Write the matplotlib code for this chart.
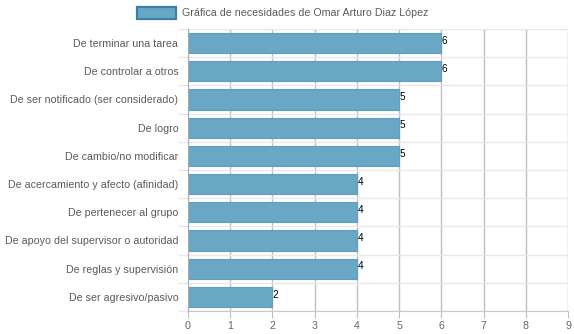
import matplotlib
matplotlib.use("Agg")
import matplotlib.pyplot as plt
from matplotlib.patches import Rectangle

categories = [
    "De terminar una tarea",
    "De controlar a otros",
    "De ser notificado (ser considerado)",
    "De logro",
    "De cambio/no modificar",
    "De acercamiento y afecto (afinidad)",
    "De pertenecer al grupo",
    "De apoyo del supervisor o autoridad",
    "De reglas y supervisión",
    "De ser agresivo/pasivo",
]
values = [6, 6, 5, 5, 5, 4, 4, 4, 4, 2]
series_label = "Gráfica de necesidades de Omar Arturo Diaz López"
x_ticks = list(range(0, 10))

plt.rcParams['font.family'] = ['Liberation Sans', 'DejaVu Sans']

W, H = 574, 334
fig = plt.figure(figsize=(W / 100, H / 100), dpi=100)
ax = fig.add_axes([188 / W, 1 - 311 / H, (568 - 188) / W, (311 - 29) / H])

n = len(categories)
ypos = list(range(n))
bar_face = "#6aa7c5"
bar_edge = "#5e9ebf"
ax.barh(ypos, values, height=0.72, color=bar_face, edgecolor=bar_edge, linewidth=0.8, zorder=3)

ax.set_xlim(0, 9)
ax.set_ylim(n - 0.5, -0.5)
ax.set_xticks(x_ticks)
ax.set_xticklabels([str(t) for t in x_ticks])
ax.set_yticks(ypos)
ax.set_yticklabels(categories)

# grid lines
for t in x_ticks[1:]:
    ax.axvline(t, color="#bfbfbf", linewidth=1, zorder=1)
for b in range(n + 1):
    ax.axhline(b - 0.5, color="#e8e8e8", linewidth=1, zorder=1)

for s in ["top", "right"]:
    ax.spines[s].set_visible(False)
ax.spines["left"].set_color("#aaaaaa")
ax.spines["bottom"].set_color("#c8c8c8")
ax.spines["left"].set_zorder(4)

ax.tick_params(axis="x", colors="#bfbfbf", labelcolor="#666666", labelsize=7.7, length=5, pad=2)
ax.tick_params(axis="y", length=0, labelcolor="#5a5a5a", labelsize=7.65, pad=7)

# left tick marks at category boundaries
for b in range(n + 1):
    ax.plot([-0.22, 0], [b - 0.5, b - 0.5], color="#e8e8e8", linewidth=1, clip_on=False, zorder=1)

for y, v in zip(ypos, values):
    ax.text(v + 0.01, y - 0.08, str(v), ha="left", va="center", fontsize=7.2, color="#000000", zorder=5)

# legend
fig.patches.append(Rectangle((137 / W, 1 - 19 / H), 39 / W, 12 / H, transform=fig.transFigure,
                             facecolor=bar_face, edgecolor="#3a7fa8", linewidth=1.6))
fig.text(182 / W, 1 - 13 / H, series_label, ha="left", va="center", fontsize=7.65, color="#5a5a5a")

fig.savefig("out.png", dpi=100)
